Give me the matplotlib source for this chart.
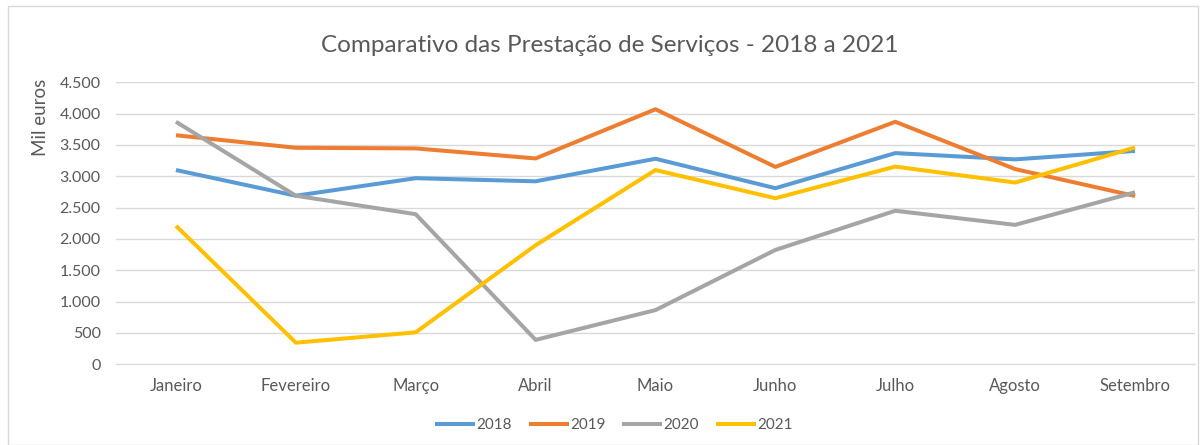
import matplotlib.pyplot as plt
from matplotlib.ticker import FuncFormatter, MultipleLocator
from matplotlib.patches import Rectangle

meses = ["Janeiro", "Fevereiro", "Março", "Abril", "Maio", "Junho", "Julho", "Agosto", "Setembro"]

v2018 = [3100, 2690, 2970, 2920, 3280, 2810, 3370, 3270, 3405]
v2019 = [3655, 3455, 3445, 3285, 4070, 3150, 3870, 3115, 2685]
v2020 = [3870, 2690, 2395, 390, 865, 1825, 2450, 2225, 2745]
v2021 = [2210, 345, 510, 1900, 3100, 2650, 3155, 2900, 3460]

series = [("2018", v2018, "#5B9BD5"),
          ("2019", v2019, "#ED7D31"),
          ("2020", v2020, "#A5A5A5"),
          ("2021", v2021, "#FFC000")]

plt.rcParams["font.family"] = ["Lato", "DejaVu Sans"]

fig = plt.figure(figsize=(12.04, 4.45), dpi=100)
ax = fig.add_axes([116 / 1204, 1 - 364.3 / 445, (1195 - 116) / 1204, (364.3 - 82.3) / 445])

# chart frame like excel
fig.patches.append(Rectangle((8 / 1204, 0.0), 1190 / 1204, 1 - 6 / 445, transform=fig.transFigure,
                             fill=False, edgecolor="#D9D9D9", linewidth=1))

x = range(len(meses))
for nome, vals, cor in series:
    ax.plot(x, vals, color=cor, linewidth=2.9, label=nome, solid_capstyle="butt")

ax.set_xlim(-0.5, len(meses) - 0.5)
ax.set_ylim(0, 4500)
ax.yaxis.set_major_locator(MultipleLocator(500))
ax.yaxis.set_major_formatter(FuncFormatter(lambda v, p: f"{int(v):,}".replace(",", ".")))
ax.set_xticks(list(x))
ax.set_xticklabels(meses)

ax.grid(axis="y", color="#D9D9D9", linewidth=1)
ax.set_axisbelow(True)
for s in ["top", "right", "left"]:
    ax.spines[s].set_visible(False)
ax.spines["bottom"].set_color("#D9D9D9")
ax.tick_params(axis="x", length=0, labelsize=12, colors="#595959", pad=10)
ax.tick_params(axis="y", length=0, labelsize=11.5, colors="#595959", pad=11)

ax.set_ylabel("Mil euros", fontsize=13.5, color="#595959")
ax.yaxis.set_label_coords(-0.062, 0.875)

fig.text(610 / 1204, 1 - 45 / 445, "Comparativo das Prestação de Serviços - 2018 a 2021",
         ha="center", va="center", fontsize=17.5, color="#595959")

leg = fig.legend(loc="center", bbox_to_anchor=(614 / 1204, 1 - 425 / 445), ncol=4, frameon=False,
                 fontsize=11, handlelength=2.6, handletextpad=0.1, columnspacing=1.1)
for t in leg.get_texts():
    t.set_color("#595959")

fig.savefig("out.png", dpi=100)
